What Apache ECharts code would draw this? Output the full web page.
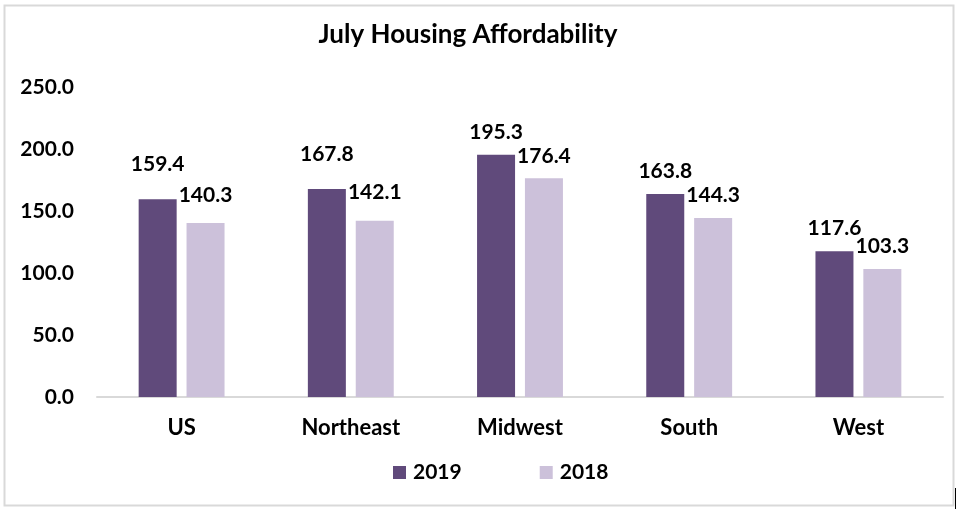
<!DOCTYPE html>
<html>
<head>
<meta charset="utf-8">
<script src="https://cdn.jsdelivr.net/npm/echarts@6/dist/echarts.min.js"></script>
<style>
  html, body { margin: 0; padding: 0; background: #fff; }
  #chart { width: 964px; height: 513px; }
</style>
</head>
<body>
<div id="chart"></div>
<script>
// data
var regions = ['US', 'Northeast', 'Midwest', 'South', 'West'];
var values2019 = [159.4, 167.8, 195.3, 163.8, 117.6];
var values2018 = [140.3, 142.1, 176.4, 144.3, 103.3];
var yTicks = [0, 50, 100, 150, 200, 250];

// extra lift of some data labels (excel placed them a bit higher)
var lift2019 = [13, 12, 0, 0, 0];
var lift2018 = [5, 6, 0, 0, 0];

var FONT = 'Lato';
var chart = echarts.init(document.getElementById('chart'));

function withLift(vals, lift) {
    return vals.map(function (v, i) {
        return { value: v, label: { distance: 12 + lift[i] } };
    });
}

var labelStyle = {
    show: true,
    position: 'top',
    distance: 12,
    fontFamily: FONT,
    fontWeight: 'bold',
    fontSize: 21,
    color: '#000',
    formatter: function (p) { return p.value.toFixed(1); }
};

chart.setOption({
    animation: false,
    backgroundColor: '#fff',
    title: {
        text: 'July Housing Affordability',
        left: 463,
        top: 17,
        textAlign: 'center',
        textStyle: { fontFamily: FONT, fontWeight: 'bold', fontSize: 26, color: '#000' }
    },
    legend: {
        data: ['2019', '2018'],
        left: 388,
        top: 457,
        itemWidth: 13,
        itemHeight: 13,
        itemGap: 78,
        icon: 'rect',
        textStyle: { fontFamily: FONT, fontWeight: 'bold', fontSize: 21, color: '#000', padding: [0, 0, 0, 2] }
    },
    grid: { left: 97, right: 21, top: 87, bottom: 116, containLabel: false },
    xAxis: {
        type: 'category',
        data: regions,
        axisLine: { lineStyle: { color: '#d9d9d9', width: 2 } },
        axisTick: { show: false },
        axisLabel: { fontFamily: FONT, fontWeight: 'bold', fontSize: 22, color: '#000', margin: 20 }
    },
    yAxis: {
        type: 'value',
        min: yTicks[0],
        max: yTicks[yTicks.length - 1],
        interval: 50,
        splitLine: { show: false },
        axisLine: { show: false },
        axisTick: { show: false },
        axisLabel: {
            fontFamily: FONT, fontWeight: 'bold', fontSize: 21, color: '#000', margin: 23,
            formatter: function (v) { return v.toFixed(1); }
        }
    },
    series: [
        {
            name: '2019',
            type: 'bar',
            data: withLift(values2019, lift2019),
            barWidth: 38,
            barGap: '26%',
            itemStyle: { color: '#604a7b' },
            label: labelStyle
        },
        {
            name: '2018',
            type: 'bar',
            data: withLift(values2018, lift2018),
            barWidth: 38,
            itemStyle: { color: '#ccc1da' },
            label: labelStyle
        }
    ],
    graphic: [
        {
            type: 'rect',
            shape: { x: 4.5, y: 5.5, width: 949, height: 500 },
            style: { fill: 'none', stroke: '#d9d9d9', lineWidth: 2 },
            silent: true
        },
        {
            type: 'line',
            shape: { x1: 955.5, y1: 488, x2: 955.5, y2: 509 },
            style: { stroke: '#000', lineWidth: 1 },
            silent: true
        }
    ]
});
</script>
</body>
</html>
